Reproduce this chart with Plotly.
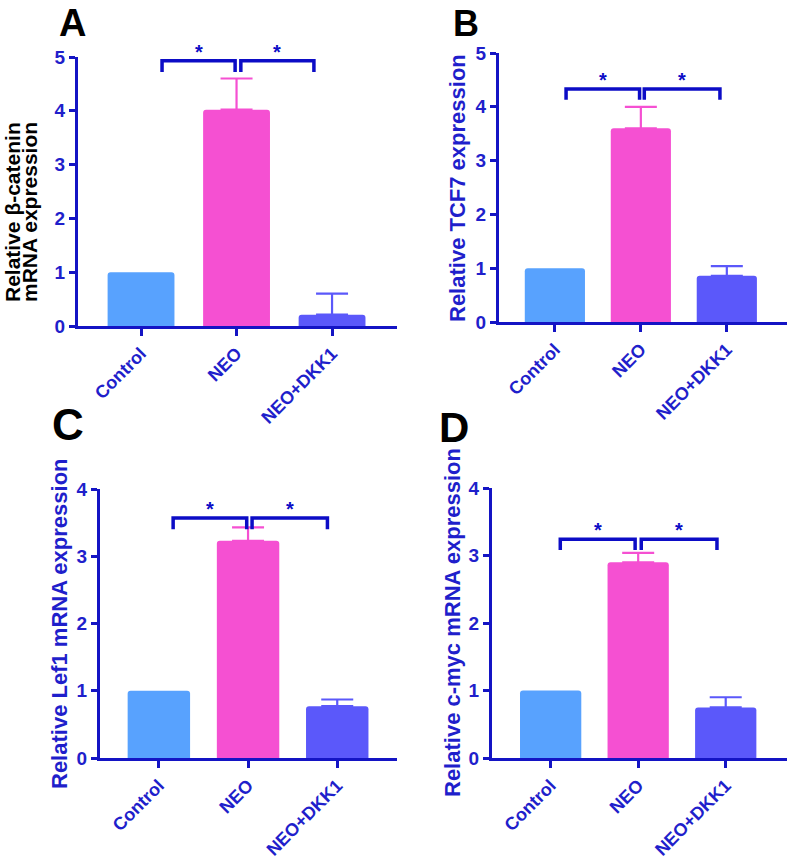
import plotly.graph_objects as go

# ---------------- data ----------------
categories = ["Control", "NEO", "NEO+DKK1"]

beta_catenin = [1.0, 4.02, 0.21]
beta_catenin_err = [0.0, 0.58, 0.39]

tcf7 = [1.0, 3.6, 0.86]
tcf7_err = [0.0, 0.4, 0.18]

lef1 = [1.0, 3.23, 0.77]
lef1_err = [0.0, 0.2, 0.1]

cmyc = [1.0, 2.9, 0.75]
cmyc_err = [0.0, 0.14, 0.15]

y_ticks_5 = [0, 1, 2, 3, 4, 5]
y_ticks_4 = [0, 1, 2, 3, 4]

# ---------------- style ----------------
W, H = 787, 863
bar_colors = ["#58A2FE", "#F550D2", "#5B58FA"]
axis_color = "#1414C4"
text_color = "#1F1FCB"
bracket_color = "#0C0CC6"
FONT = "Liberation Sans, Arial, sans-serif"

def px_x(p):
    return p / W

def px_y(p):
    return 1 - p / H

# panel geometry in pixels: (x_left, x_right, y_top, y_bottom)
panels = [
    dict(key="", vals=beta_catenin, errs=beta_catenin_err, ymax=5, ticks=y_ticks_5,
         box=(78, 397, 57, 326), xr=[-0.66, 2.68],
         brackets=[(0.22, 0.985), (1.045, 1.81)], btop=4.93, bleg=4.72),
    dict(key="2", vals=tcf7, errs=tcf7_err, ymax=5, ticks=y_ticks_5,
         box=(499, 787, 53, 322), xr=[-0.65, 2.70],
         brackets=[(0.13, 0.985), (1.04, 1.92)], btop=4.33, bleg=4.13),
    dict(key="3", vals=lef1, errs=lef1_err, ymax=4, ticks=y_ticks_4,
         box=(100, 397, 489, 758), xr=[-0.66, 2.67],
         brackets=[(0.16, 0.985), (1.045, 1.89)], btop=3.57, bleg=3.40),
    dict(key="4", vals=cmyc, errs=cmyc_err, ymax=4, ticks=y_ticks_4,
         box=(492, 787, 488, 758), xr=[-0.67, 2.70],
         brackets=[(0.11, 0.965), (1.035, 1.90)], btop=3.24, bleg=3.08),
]

fig = go.Figure()
shapes = []
annotations = []
xpos = [0, 1, 2]

for p in panels:
    k = p["key"]
    xa = "x" + k
    ya = "y" + k
    for i in range(3):
        has_err = p["errs"][i] > 0
        fig.add_trace(go.Bar(
            x=[xpos[i]], y=[p["vals"][i]],
            xaxis=xa, yaxis=ya,
            width=0.7,
            marker=dict(color=bar_colors[i], line=dict(width=0)),
            error_y=dict(type="data", symmetric=False,
                         array=[p["errs"][i]], arrayminus=[0],
                         color=bar_colors[i], thickness=2.2, width=16,
                         visible=has_err),
            showlegend=False, hoverinfo="skip",
        ))
    x0, x1, yt, yb = p["box"]
    common_axis = dict(showline=True, linecolor=axis_color, linewidth=3,
                       ticks="outside", tickcolor=axis_color, tickwidth=3,
                       showgrid=False, zeroline=False, automargin=False,
                       fixedrange=True)
    fig.update_layout(**{
        "xaxis" + k: dict(domain=[px_x(x0), px_x(x1)], anchor=ya, range=p["xr"],
                          tickmode="array", tickvals=xpos, ticktext=categories,
                          tickangle=-45, ticklen=7,
                          tickfont=dict(family=FONT, size=18, color=text_color, weight="bold"),
                          **common_axis),
        "yaxis" + k: dict(domain=[px_y(yb), px_y(yt)], anchor=xa, range=[0, p["ymax"]],
                          tickmode="array", tickvals=p["ticks"], ticklen=6,
                          tickfont=dict(family=FONT, size=19, color=text_color, weight="bold"),
                          **common_axis),
    })
    for (bx0, bx1) in p["brackets"]:
        shapes.append(dict(
            type="path", xref=xa, yref=ya,
            path=f"M {bx0},{p['bleg']} L {bx0},{p['btop']} L {bx1},{p['btop']} L {bx1},{p['bleg']}",
            line=dict(color=bracket_color, width=3.5),
        ))
        annotations.append(dict(
            x=(bx0 + bx1) / 2, y=p["btop"], xref=xa, yref=ya,
            text="*", showarrow=False, yanchor="bottom", yshift=-4,
            font=dict(family=FONT, size=20, color=bracket_color, weight="bold"),
        ))

# y-axis titles
def ylabel(text, cx, cy, color, size=22):
    annotations.append(dict(
        x=px_x(cx), y=px_y(cy), xref="paper", yref="paper",
        text=text, textangle=-90, showarrow=False,
        xanchor="center", yanchor="middle",
        font=dict(family=FONT, size=size, color=color, weight="bold"),
    ))

ylabel("Relative β-catenin", 12, 212, "#000000", 21)
ylabel("mRNA expression", 29, 212, "#000000", 21)
ylabel("Relative TCF7 expression", 458, 188, text_color)
ylabel("Relative Lef1 mRNA expression", 59, 624, text_color)
ylabel("Relative c-myc mRNA expression", 452, 623, text_color)

# panel letters (A and B hang from the top edge)
for letter, cx, cy, anchor, size in [("A", 72, 0, "top", 38), ("B", 466, 1, "top", 36),
                                     ("C", 68, 424, "middle", 44), ("D", 454, 427, "middle", 42)]:
    annotations.append(dict(
        x=px_x(cx), y=px_y(cy), xref="paper", yref="paper",
        text=letter, showarrow=False, xanchor="center", yanchor=anchor,
        font=dict(family=FONT, size=size, color="#000000", weight="bold"),
    ))

fig.update_layout(
    width=W, height=H,
    margin=dict(l=0, r=0, t=0, b=0),
    paper_bgcolor="white", plot_bgcolor="white",
    barmode="overlay",
    barcornerradius=3,
    shapes=shapes, annotations=annotations,
    font=dict(family=FONT),
)

fig.write_html(
    "out.html",
    config={"displayModeBar": False},
    post_script="document.body.style.margin='0';document.body.style.overflow='hidden';",
)
